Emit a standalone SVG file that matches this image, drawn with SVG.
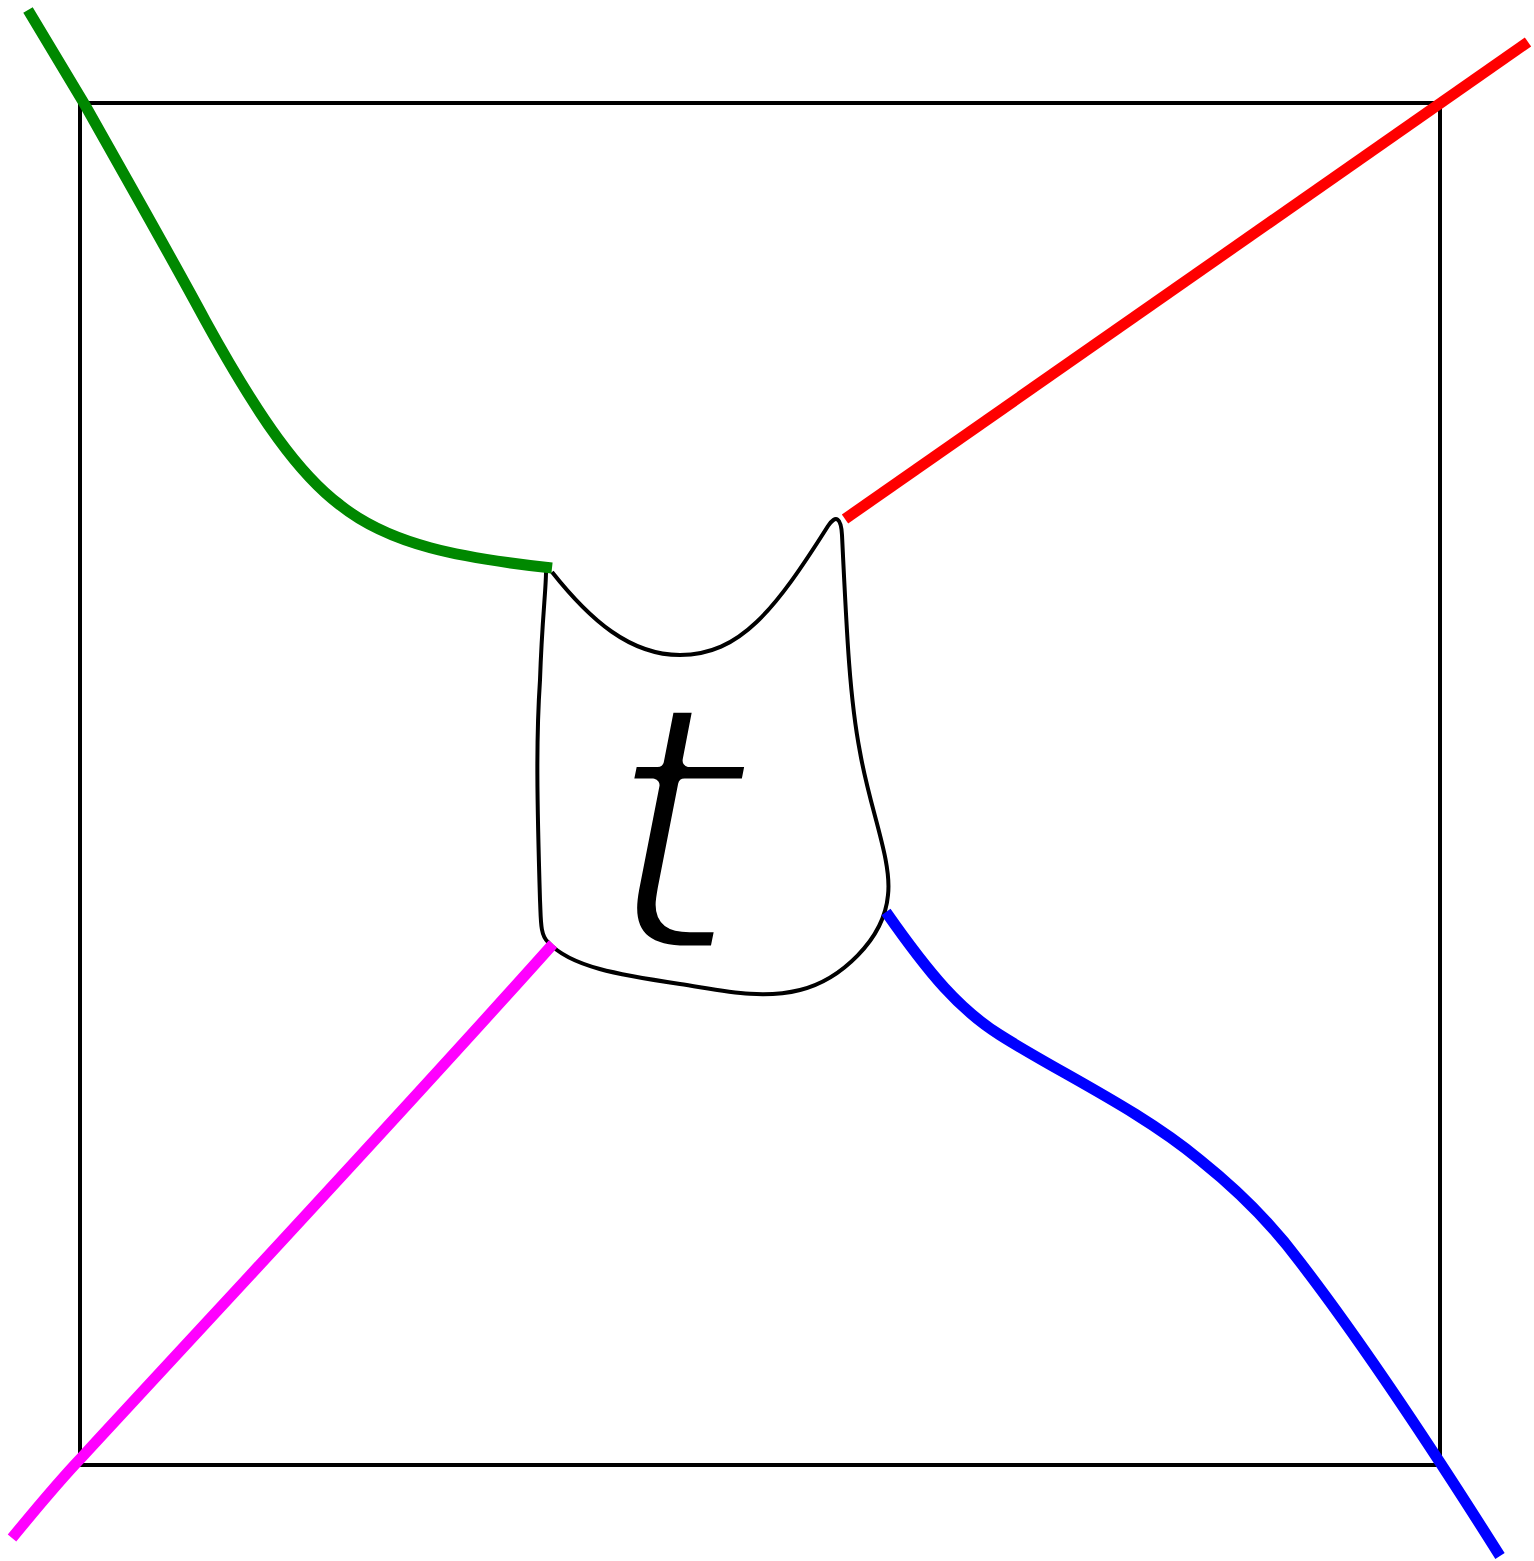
<svg xmlns="http://www.w3.org/2000/svg" width="1534" height="1561" viewBox="0 0 1534 1561">
<style>
.frame{fill:none;stroke:#000;stroke-width:4}
.edge{fill:none;stroke-width:11}
.blob{fill:none;stroke:#000;stroke-width:4;stroke-linejoin:round}
.lbl{font-family:"DejaVu Sans",sans-serif;font-style:oblique;font-size:350px;fill:#000;stroke:#fff;stroke-width:13;stroke-linejoin:round}
</style>
<rect width="1534" height="1561" fill="#fff"/>
<g id="frame"><rect class="frame" x="80" y="103" width="1360" height="1362"/></g>
<g id="node-t">
<path class="blob" d="M 552,572 C 590,620 630,655 680,655 C 740,655 775,610 828,526 C 836,514 841,518 842,535 C 847,640 850,700 860,752 C 870,810 892,860 888,895 C 884,940 840,980 800,990 C 760,1000 720,990 680,984 C 620,975 570,967 548,942 C 540,935 541,920 540,900 C 537,800 536,740 540,680 C 542,620 546,590 546,572"/>
<text class="lbl" x="604" y="952">t</text>
</g>
<g id="connectors">
<path class="edge" stroke="#008800" d="M 28,10 L 85,105 C 130,185 170,255 205,320 C 260,420 300,475 340,505 C 390,545 460,558 552,568"/>
<path class="edge" stroke="#ff0000" d="M 1528,42 L 845,519"/>
<path class="edge" stroke="#ff00ff" d="M 12,1538 C 35,1510 60,1480 82,1457 C 250,1275 400,1115 553,944"/>
<path class="edge" stroke="#0000ff" d="M 886,912 C 930,975 960,1010 1000,1035 C 1060,1073 1140,1110 1200,1160 C 1250,1200 1280,1235 1300,1262 C 1360,1340 1430,1445 1500,1556"/>
</g>
</svg>
